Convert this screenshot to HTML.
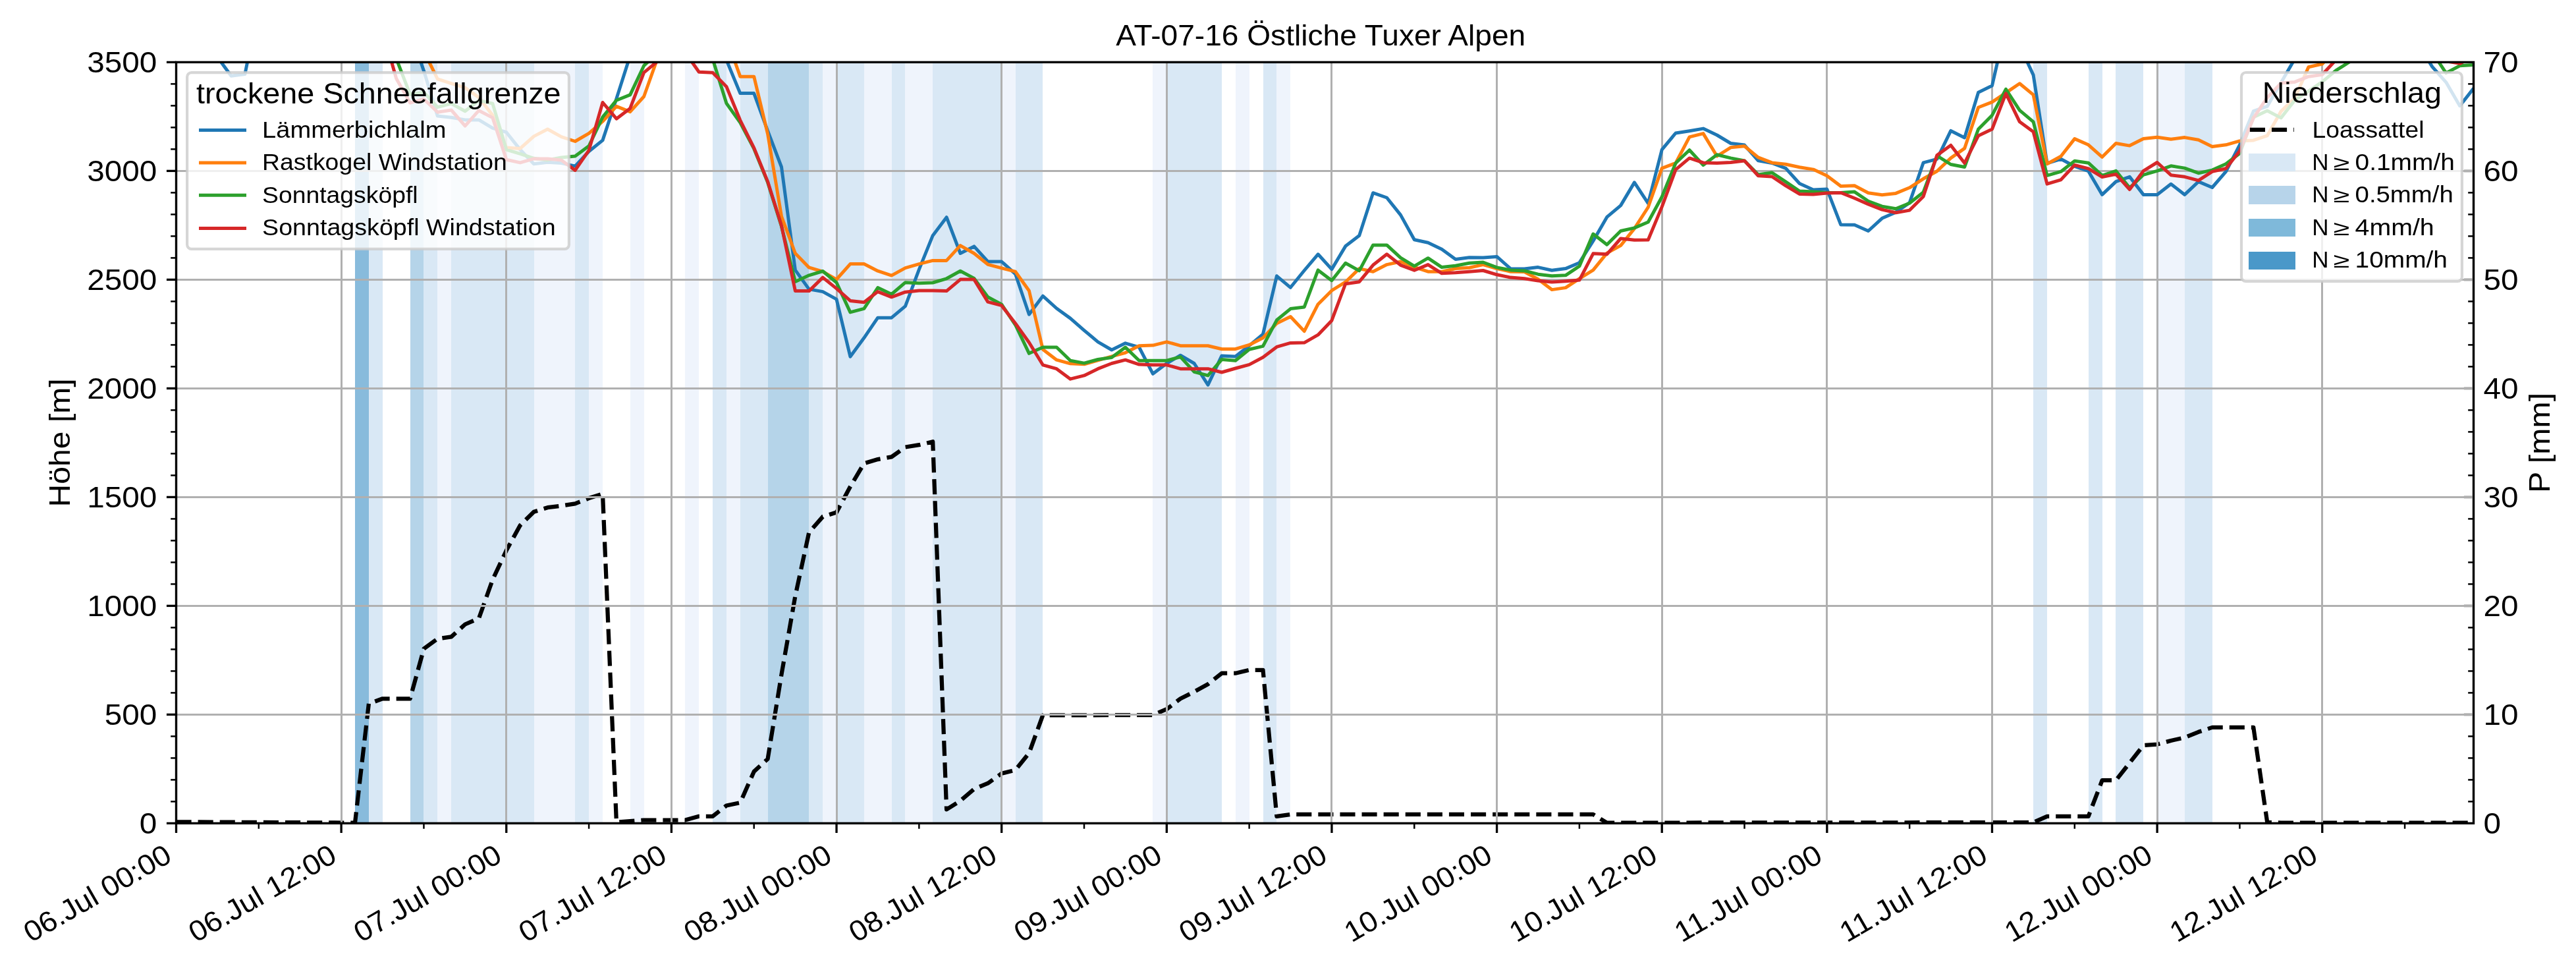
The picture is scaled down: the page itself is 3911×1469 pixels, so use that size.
<!DOCTYPE html>
<html lang="de"><head><meta charset="utf-8"><title>AT-07-16 Östliche Tuxer Alpen</title>
<style>html,body{margin:0;padding:0;background:#fff;}body{width:3911px;height:1469px;overflow:hidden;}svg{display:block;will-change:transform;}text{font-family:"Liberation Sans", sans-serif;fill:#000;}</style></head><body>
<svg width="3911" height="1469" viewBox="0 0 3911 1469">
<defs><clipPath id="ax"><rect x="267.50" y="94.40" width="3488.00" height="1155.00"/></clipPath></defs>
<rect x="0" y="0" width="3911" height="1469" fill="#ffffff"/>
<g shape-rendering="crispEdges">
<rect x="539" y="94.40" width="21" height="1155.00" fill="#88bbdc"/>
<rect x="560" y="94.40" width="21" height="1155.00" fill="#d9e8f5"/>
<rect x="623" y="94.40" width="20" height="1155.00" fill="#b5d4e9"/>
<rect x="643" y="94.40" width="21" height="1155.00" fill="#d9e8f5"/>
<rect x="664" y="94.40" width="21" height="1155.00" fill="#eff4fc"/>
<rect x="685" y="94.40" width="126" height="1155.00" fill="#d9e8f5"/>
<rect x="811" y="94.40" width="62" height="1155.00" fill="#eff4fc"/>
<rect x="873" y="94.40" width="21" height="1155.00" fill="#d9e8f5"/>
<rect x="894" y="94.40" width="21" height="1155.00" fill="#eff4fc"/>
<rect x="957" y="94.40" width="21" height="1155.00" fill="#eff4fc"/>
<rect x="1040" y="94.40" width="21" height="1155.00" fill="#eff4fc"/>
<rect x="1082" y="94.40" width="21" height="1155.00" fill="#d9e8f5"/>
<rect x="1103" y="94.40" width="21" height="1155.00" fill="#eff4fc"/>
<rect x="1124" y="94.40" width="42" height="1155.00" fill="#d9e8f5"/>
<rect x="1166" y="94.40" width="62" height="1155.00" fill="#b5d4e9"/>
<rect x="1228" y="94.40" width="21" height="1155.00" fill="#d9e8f5"/>
<rect x="1249" y="94.40" width="21" height="1155.00" fill="#eff4fc"/>
<rect x="1270" y="94.40" width="42" height="1155.00" fill="#d9e8f5"/>
<rect x="1312" y="94.40" width="42" height="1155.00" fill="#eff4fc"/>
<rect x="1354" y="94.40" width="20" height="1155.00" fill="#d9e8f5"/>
<rect x="1374" y="94.40" width="42" height="1155.00" fill="#eff4fc"/>
<rect x="1416" y="94.40" width="105" height="1155.00" fill="#d9e8f5"/>
<rect x="1521" y="94.40" width="21" height="1155.00" fill="#eff4fc"/>
<rect x="1542" y="94.40" width="41" height="1155.00" fill="#d9e8f5"/>
<rect x="1750" y="94.40" width="21" height="1155.00" fill="#eff4fc"/>
<rect x="1771" y="94.40" width="84" height="1155.00" fill="#d9e8f5"/>
<rect x="1876" y="94.40" width="21" height="1155.00" fill="#eff4fc"/>
<rect x="1918" y="94.40" width="20" height="1155.00" fill="#d9e8f5"/>
<rect x="1938" y="94.40" width="21" height="1155.00" fill="#eff4fc"/>
<rect x="3087" y="94.40" width="21" height="1155.00" fill="#d9e8f5"/>
<rect x="3171" y="94.40" width="21" height="1155.00" fill="#d9e8f5"/>
<rect x="3212" y="94.40" width="42" height="1155.00" fill="#d9e8f5"/>
<rect x="3275" y="94.40" width="42" height="1155.00" fill="#eff4fc"/>
<rect x="3317" y="94.40" width="42" height="1155.00" fill="#d9e8f5"/>
</g>
<g clip-path="url(#ax)"><polyline fill="none" stroke="#000" stroke-width="6.25" stroke-dasharray="23.1 10" stroke-linejoin="round" points="267.5,1247.3 539.0,1248.6 559.9,1067.9 580.8,1060.3 601.7,1060.3 622.6,1060.3 643.5,984.6 664.3,969.4 685.2,966.4 706.1,947.5 727.0,938.4 747.9,879.8 768.8,835.3 789.7,797.3 810.5,776.7 831.4,770.2 852.3,767.6 873.2,764.3 894.1,756.1 915.0,749.5 935.9,1247.8 956.7,1246.1 977.6,1244.5 998.5,1244.5 1019.4,1244.5 1040.3,1244.5 1061.2,1238.8 1082.1,1238.8 1102.9,1222.5 1123.8,1218.1 1144.7,1170.9 1165.6,1151.7 1186.5,1023.4 1207.4,904.6 1228.3,807.9 1249.2,784.1 1270.0,777.5 1290.9,738.6 1311.8,703.3 1332.7,697.1 1353.6,693.4 1374.5,678.5 1395.4,675.2 1416.2,670.3 1437.1,1228.4 1458.0,1215.2 1478.9,1197.4 1499.8,1188.7 1520.7,1173.8 1541.6,1168.6 1562.4,1142.8 1583.3,1085.4 1750.4,1085.1 1771.3,1076.2 1792.2,1060.3 1813.1,1049.8 1834.0,1038.2 1854.9,1021.7 1875.7,1021.7 1896.6,1016.8 1917.5,1016.8 1938.4,1238.8 1959.3,1235.9 2418.8,1235.9 2439.7,1248.6 3087.1,1248.1 3108.0,1238.8 3170.7,1238.8 3191.6,1184.2 3212.5,1184.2 3233.3,1157.7 3254.2,1131.1 3275.1,1129.6 3296.0,1124.0 3316.9,1119.2 3337.8,1110.8 3358.7,1103.9 3379.5,1103.9 3400.4,1103.9 3421.3,1103.9 3442.2,1247.8 3463.1,1248.6 3755.5,1248.6"/></g>
<g stroke="#b0b0b0" stroke-width="3" fill="none">
<line x1="518.50" y1="94.40" x2="518.50" y2="1249.40"/>
<line x1="768.50" y1="94.40" x2="768.50" y2="1249.40"/>
<line x1="1019.50" y1="94.40" x2="1019.50" y2="1249.40"/>
<line x1="1270.50" y1="94.40" x2="1270.50" y2="1249.40"/>
<line x1="1520.50" y1="94.40" x2="1520.50" y2="1249.40"/>
<line x1="1771.50" y1="94.40" x2="1771.50" y2="1249.40"/>
<line x1="2021.50" y1="94.40" x2="2021.50" y2="1249.40"/>
<line x1="2272.50" y1="94.40" x2="2272.50" y2="1249.40"/>
<line x1="2523.50" y1="94.40" x2="2523.50" y2="1249.40"/>
<line x1="2773.50" y1="94.40" x2="2773.50" y2="1249.40"/>
<line x1="3024.50" y1="94.40" x2="3024.50" y2="1249.40"/>
<line x1="3275.50" y1="94.40" x2="3275.50" y2="1249.40"/>
<line x1="3525.50" y1="94.40" x2="3525.50" y2="1249.40"/>
<line x1="267.50" y1="1084.50" x2="3755.50" y2="1084.50"/>
<line x1="267.50" y1="919.50" x2="3755.50" y2="919.50"/>
<line x1="267.50" y1="754.50" x2="3755.50" y2="754.50"/>
<line x1="267.50" y1="589.50" x2="3755.50" y2="589.50"/>
<line x1="267.50" y1="424.50" x2="3755.50" y2="424.50"/>
<line x1="267.50" y1="259.50" x2="3755.50" y2="259.50"/>
</g>
<g clip-path="url(#ax)" fill="none" stroke-width="5" stroke-linejoin="round" stroke-linecap="butt">
<polyline stroke="#1f77b4" points="267.5,28.4 288.4,44.9 309.3,61.4 330.2,86.8 351.0,115.2 371.9,112.6 392.8,8.6 413.7,-4.6 434.6,-4.6 455.5,-4.6 476.4,-4.6 497.2,-4.6 518.1,-4.6 539.0,-4.6 559.9,-4.6 580.8,-4.6 601.7,-4.6 622.6,46.9 643.5,107.6 664.3,175.9 685.2,178.2 706.1,181.9 727.0,181.9 747.9,194.4 768.8,200.7 789.7,227.1 810.5,248.8 831.4,246.2 852.3,247.5 873.2,252.1 894.1,229.7 915.0,212.9 935.9,149.8 956.7,84.5 977.6,-4.6 998.5,-4.6 1019.4,-4.6 1040.3,-4.6 1061.2,-4.6 1082.1,-4.6 1102.9,91.1 1123.8,141.6 1144.7,141.6 1165.6,198.7 1186.5,253.5 1207.4,409.9 1228.3,438.9 1249.2,442.6 1270.0,454.1 1290.9,541.2 1311.8,512.8 1332.7,482.2 1353.6,482.2 1374.5,464.7 1395.4,408.9 1416.2,357.4 1437.1,329.7 1458.0,384.5 1478.9,373.9 1499.8,397.0 1520.7,397.0 1541.6,415.8 1562.4,477.2 1583.3,449.2 1604.2,468.0 1625.1,483.1 1646.0,501.3 1666.9,518.8 1687.8,531.0 1708.6,520.8 1729.5,527.0 1750.4,567.3 1771.3,551.5 1792.2,539.2 1813.1,551.5 1834.0,584.1 1854.9,539.9 1875.7,540.9 1896.6,524.7 1917.5,507.2 1938.4,418.8 1959.3,436.3 1980.2,410.5 2001.1,385.8 2021.9,408.6 2042.8,373.6 2063.7,357.4 2084.6,292.7 2105.5,300.0 2126.4,326.1 2147.3,363.7 2168.1,368.3 2189.0,378.2 2209.9,393.4 2230.8,390.7 2251.7,391.1 2272.6,389.4 2293.5,407.9 2314.4,407.9 2335.2,405.6 2356.1,410.2 2377.0,407.6 2397.9,398.7 2418.8,365.7 2439.7,329.4 2460.6,311.9 2481.4,276.9 2502.3,308.6 2523.2,227.1 2544.1,202.0 2565.0,198.7 2585.9,195.1 2606.8,205.0 2627.6,217.5 2648.5,220.1 2669.4,243.9 2690.3,247.5 2711.2,255.4 2732.1,278.5 2753.0,288.1 2773.8,287.1 2794.7,340.9 2815.6,341.2 2836.5,350.5 2857.4,331.3 2878.3,322.1 2899.2,307.6 2920.1,246.9 2940.9,241.3 2961.8,198.4 2982.7,208.9 3003.6,140.3 3024.5,130.0 3045.4,38.6 3066.3,69.0 3087.1,113.9 3108.0,247.9 3128.9,241.3 3149.8,252.5 3170.7,259.7 3191.6,295.4 3212.5,275.6 3233.3,268.3 3254.2,295.4 3275.1,295.4 3296.0,279.2 3316.9,295.4 3337.8,275.6 3358.7,284.5 3379.5,260.4 3400.4,219.8 3421.3,168.7 3442.2,161.4 3463.1,125.4 3484.0,89.5 3504.9,61.4 3525.8,-4.6 3546.6,-4.6 3567.5,-4.6 3588.4,-4.6 3609.3,-4.6 3630.2,-4.6 3651.1,-4.6 3672.0,68.7 3692.8,101.3 3713.7,124.8 3734.6,160.7 3755.5,134.0"/>
<polyline stroke="#ff7f0e" points="267.5,-4.6 288.4,-4.6 309.3,-4.6 330.2,-4.6 351.0,-4.6 371.9,-4.6 392.8,-4.6 413.7,-4.6 434.6,-4.6 455.5,-4.6 476.4,-4.6 497.2,-4.6 518.1,-4.6 539.0,-4.6 559.9,-4.6 580.8,-4.6 601.7,-4.6 622.6,-4.6 643.5,77.9 664.3,119.8 685.2,126.7 706.1,133.0 727.0,147.9 747.9,174.9 768.8,224.1 789.7,225.4 810.5,206.9 831.4,196.0 852.3,207.6 873.2,214.5 894.1,202.3 915.0,184.2 935.9,161.4 956.7,169.6 977.6,146.5 998.5,87.8 1019.4,-4.6 1040.3,-4.6 1061.2,-4.6 1082.1,-4.6 1102.9,57.4 1123.8,116.2 1144.7,116.2 1165.6,203.3 1186.5,328.4 1207.4,384.5 1228.3,405.9 1249.2,412.2 1270.0,424.1 1290.9,400.6 1311.8,400.6 1332.7,411.2 1353.6,418.1 1374.5,406.6 1395.4,400.6 1416.2,395.4 1437.1,395.4 1458.0,372.6 1478.9,384.5 1499.8,401.3 1520.7,406.9 1541.6,412.2 1562.4,441.2 1583.3,530.3 1604.2,546.2 1625.1,551.8 1646.0,552.8 1666.9,546.8 1687.8,540.9 1708.6,535.3 1729.5,524.7 1750.4,524.1 1771.3,518.8 1792.2,524.7 1813.1,524.7 1834.0,524.7 1854.9,529.7 1875.7,529.7 1896.6,523.4 1917.5,512.8 1938.4,490.7 1959.3,480.5 1980.2,502.6 2001.1,461.7 2021.9,440.9 2042.8,428.0 2063.7,407.6 2084.6,412.2 2105.5,401.6 2126.4,397.0 2147.3,405.3 2168.1,412.2 2189.0,412.2 2209.9,407.6 2230.8,406.3 2251.7,401.6 2272.6,407.6 2293.5,412.2 2314.4,412.5 2335.2,423.7 2356.1,439.6 2377.0,436.6 2397.9,422.8 2418.8,409.9 2439.7,384.1 2460.6,372.6 2481.4,346.9 2502.3,314.5 2523.2,255.4 2544.1,247.5 2565.0,207.9 2585.9,202.6 2606.8,237.0 2627.6,223.8 2648.5,221.8 2669.4,238.9 2690.3,246.9 2711.2,249.2 2732.1,253.8 2753.0,257.1 2773.8,266.7 2794.7,282.5 2815.6,281.8 2836.5,292.7 2857.4,295.7 2878.3,293.4 2899.2,284.8 2920.1,271.3 2940.9,259.7 2961.8,239.9 2982.7,225.1 3003.6,163.0 3024.5,154.8 3045.4,140.9 3066.3,126.7 3087.1,143.9 3108.0,248.8 3128.9,237.3 3149.8,210.6 3170.7,219.8 3191.6,238.3 3212.5,217.5 3233.3,221.1 3254.2,210.6 3275.1,208.2 3296.0,211.2 3316.9,208.6 3337.8,212.2 3358.7,222.4 3379.5,219.8 3400.4,213.9 3421.3,212.9 3442.2,205.9 3463.1,169.0 3484.0,148.9 3504.9,101.7 3525.8,97.0 3546.6,74.6 3567.5,-4.6 3588.4,-4.6 3609.3,-4.6 3630.2,-4.6 3651.1,-4.6 3672.0,-4.6 3692.8,-4.6 3713.7,-4.6 3734.6,-4.6 3755.5,-4.6"/>
<polyline stroke="#2ca02c" points="267.5,-4.6 288.4,-4.6 309.3,-4.6 330.2,-4.6 351.0,-4.6 371.9,-4.6 392.8,-4.6 413.7,-4.6 434.6,-4.6 455.5,-4.6 476.4,-4.6 497.2,-4.6 518.1,-4.6 539.0,-4.6 559.9,-4.6 580.8,28.4 601.7,89.1 622.6,143.2 643.5,139.9 664.3,162.7 685.2,157.1 706.1,168.7 727.0,152.5 747.9,157.1 768.8,227.1 789.7,233.3 810.5,240.3 831.4,242.9 852.3,238.9 873.2,237.0 894.1,221.5 915.0,177.6 935.9,152.2 956.7,143.9 977.6,99.7 998.5,80.2 1019.4,-4.6 1040.3,-4.6 1061.2,61.4 1082.1,89.8 1102.9,156.8 1123.8,186.1 1144.7,225.7 1165.6,276.9 1186.5,343.6 1207.4,427.4 1228.3,417.8 1249.2,411.5 1270.0,428.7 1290.9,473.9 1311.8,468.3 1332.7,436.6 1353.6,446.5 1374.5,428.7 1395.4,429.7 1416.2,429.0 1437.1,422.8 1458.0,411.2 1478.9,422.4 1499.8,450.8 1520.7,462.0 1541.6,493.0 1562.4,536.3 1583.3,527.0 1604.2,527.0 1625.1,547.2 1646.0,551.1 1666.9,545.5 1687.8,542.5 1708.6,527.0 1729.5,547.2 1750.4,547.2 1771.3,547.2 1792.2,541.6 1813.1,564.3 1834.0,569.9 1854.9,545.5 1875.7,547.2 1896.6,530.3 1917.5,525.4 1938.4,485.8 1959.3,468.6 1980.2,466.0 2001.1,409.9 2021.9,425.7 2042.8,399.3 2063.7,410.9 2084.6,371.9 2105.5,371.9 2126.4,391.1 2147.3,403.9 2168.1,391.7 2189.0,405.6 2209.9,403.3 2230.8,399.3 2251.7,398.0 2272.6,405.9 2293.5,409.9 2314.4,410.9 2335.2,416.2 2356.1,418.8 2377.0,417.8 2397.9,403.9 2418.8,355.1 2439.7,371.3 2460.6,350.5 2481.4,345.9 2502.3,337.0 2523.2,298.7 2544.1,247.5 2565.0,227.7 2585.9,250.5 2606.8,234.7 2627.6,239.9 2648.5,243.9 2669.4,265.0 2690.3,262.0 2711.2,275.9 2732.1,290.1 2753.0,291.1 2773.8,292.4 2794.7,292.4 2815.6,291.1 2836.5,305.3 2857.4,313.2 2878.3,316.8 2899.2,308.2 2920.1,291.7 2940.9,236.3 2961.8,249.5 2982.7,253.5 3003.6,196.0 3024.5,174.9 3045.4,135.3 3066.3,167.3 3087.1,184.8 3108.0,266.3 3128.9,260.4 3149.8,244.2 3170.7,247.2 3191.6,266.3 3212.5,259.4 3233.3,285.1 3254.2,265.3 3275.1,259.4 3296.0,251.8 3316.9,255.1 3337.8,262.7 3358.7,258.1 3379.5,248.8 3400.4,232.7 3421.3,177.9 3442.2,168.0 3463.1,178.9 3484.0,152.2 3504.9,138.3 3525.8,124.1 3546.6,106.9 3567.5,93.7 3588.4,61.4 3609.3,-4.6 3630.2,-4.6 3651.1,-4.6 3672.0,-4.6 3692.8,79.2 3713.7,110.9 3734.6,99.7 3755.5,98.4"/>
<polyline stroke="#d62728" points="267.5,-4.6 288.4,-4.6 309.3,-4.6 330.2,-4.6 351.0,-4.6 371.9,-4.6 392.8,-4.6 413.7,-4.6 434.6,-4.6 455.5,-4.6 476.4,-4.6 497.2,-4.6 518.1,-4.6 539.0,-4.6 559.9,-4.6 580.8,45.6 601.7,119.2 622.6,156.1 643.5,150.2 664.3,170.3 685.2,167.0 706.1,191.1 727.0,167.7 747.9,178.6 768.8,242.2 789.7,246.9 810.5,240.9 831.4,240.9 852.3,242.9 873.2,258.4 894.1,228.1 915.0,155.5 935.9,180.2 956.7,164.4 977.6,110.2 998.5,92.8 1019.4,61.4 1040.3,79.6 1061.2,109.2 1082.1,110.2 1102.9,131.4 1123.8,182.5 1144.7,224.4 1165.6,275.6 1186.5,342.6 1207.4,441.6 1228.3,441.6 1249.2,421.1 1270.0,437.9 1290.9,456.4 1311.8,458.7 1332.7,442.6 1353.6,450.8 1374.5,443.2 1395.4,440.9 1416.2,440.9 1437.1,441.6 1458.0,424.1 1478.9,424.1 1499.8,458.1 1520.7,463.7 1541.6,490.7 1562.4,519.8 1583.3,553.8 1604.2,559.7 1625.1,575.2 1646.0,569.9 1666.9,559.7 1687.8,551.5 1708.6,546.2 1729.5,553.1 1750.4,553.8 1771.3,553.8 1792.2,559.7 1813.1,559.7 1834.0,559.7 1854.9,565.0 1875.7,559.0 1896.6,553.4 1917.5,542.2 1938.4,526.4 1959.3,520.4 1980.2,520.1 2001.1,508.2 2021.9,486.4 2042.8,430.7 2063.7,427.7 2084.6,402.3 2105.5,385.8 2126.4,402.3 2147.3,410.2 2168.1,401.6 2189.0,414.8 2209.9,413.8 2230.8,412.2 2251.7,410.5 2272.6,416.8 2293.5,421.1 2314.4,422.8 2335.2,426.1 2356.1,428.0 2377.0,426.7 2397.9,425.1 2418.8,384.8 2439.7,385.8 2460.6,362.0 2481.4,364.3 2502.3,364.0 2523.2,313.9 2544.1,257.4 2565.0,239.9 2585.9,246.9 2606.8,247.5 2627.6,246.5 2648.5,243.9 2669.4,266.7 2690.3,268.0 2711.2,281.8 2732.1,294.4 2753.0,295.0 2773.8,293.1 2794.7,292.4 2815.6,300.7 2836.5,309.9 2857.4,318.1 2878.3,322.8 2899.2,319.1 2920.1,298.3 2940.9,235.6 2961.8,220.5 2982.7,247.5 3003.6,205.9 3024.5,196.0 3045.4,141.9 3066.3,184.8 3087.1,200.0 3108.0,279.2 3128.9,272.9 3149.8,250.5 3170.7,255.8 3191.6,268.6 3212.5,264.4 3233.3,287.5 3254.2,259.4 3275.1,246.5 3296.0,265.7 3316.9,268.3 3337.8,273.9 3358.7,260.4 3379.5,255.8 3400.4,229.0 3421.3,179.2 3442.2,148.2 3463.1,126.1 3484.0,124.4 3504.9,116.2 3525.8,113.2 3546.6,90.8 3567.5,61.4 3588.4,-4.6 3609.3,-4.6 3630.2,-4.6 3651.1,-4.6 3672.0,74.6 3692.8,87.8 3713.7,92.8 3734.6,96.4 3755.5,85.8"/>
</g>
<rect x="284.10" y="110.10" width="579.80" height="267.80" rx="6.7" ry="6.7" fill="#ffffff" fill-opacity="0.8" stroke="#cccccc" stroke-opacity="0.8" stroke-width="4.17"/>
<text x="298.00" y="156.60" font-size="43.75" text-anchor="start" textLength="553.6" lengthAdjust="spacingAndGlyphs">trockene Schneefallgrenze</text>
<line x1="302" y1="197.50" x2="374" y2="197.50" stroke="#1f77b4" stroke-width="5"/>
<text x="398.10" y="208.70" font-size="35.00" text-anchor="start" textLength="279.4" lengthAdjust="spacingAndGlyphs">Lämmerbichlalm</text>
<line x1="302" y1="246.90" x2="374" y2="246.90" stroke="#ff7f0e" stroke-width="5"/>
<text x="398.10" y="258.20" font-size="35.00" text-anchor="start" textLength="371.8" lengthAdjust="spacingAndGlyphs">Rastkogel Windstation</text>
<line x1="302" y1="296.30" x2="374" y2="296.30" stroke="#2ca02c" stroke-width="5"/>
<text x="398.10" y="307.70" font-size="35.00" text-anchor="start" textLength="236.5" lengthAdjust="spacingAndGlyphs">Sonntagsköpfl</text>
<line x1="302" y1="346.40" x2="374" y2="346.40" stroke="#d62728" stroke-width="5"/>
<text x="398.10" y="357.20" font-size="35.00" text-anchor="start" textLength="445.5" lengthAdjust="spacingAndGlyphs">Sonntagsköpfl Windstation</text>
<rect x="3403.00" y="110.00" width="334.90" height="317.00" rx="6.7" ry="6.7" fill="#ffffff" fill-opacity="0.8" stroke="#cccccc" stroke-opacity="0.8" stroke-width="4.17"/>
<text x="3570.80" y="155.60" font-size="43.75" text-anchor="middle" textLength="272.2" lengthAdjust="spacingAndGlyphs">Niederschlag</text>
<line x1="3415.9" y1="196.95" x2="3482.9" y2="196.95" stroke="#000" stroke-width="6.25" stroke-dasharray="23.1 10"/>
<text x="3510.60" y="208.50" font-size="35.00" text-anchor="start" textLength="169.9" lengthAdjust="spacingAndGlyphs">Loassattel</text>
<rect x="3414.0" y="233.10" width="71.1" height="26.80" fill="#d9e8f5" shape-rendering="crispEdges"/>
<text y="257.90" font-size="35.00"><tspan x="3510.2">N</tspan> <tspan x="3542.60" font-size="31.50" textLength="24.8" lengthAdjust="spacingAndGlyphs">≥</tspan> <tspan x="3575.60" textLength="151.2" lengthAdjust="spacingAndGlyphs">0.1mm/h</tspan></text>
<rect x="3414.0" y="282.20" width="71.1" height="27.80" fill="#b7d4ea" shape-rendering="crispEdges"/>
<text y="307.40" font-size="35.00"><tspan x="3510.2">N</tspan> <tspan x="3542.60" font-size="31.50" textLength="24.8" lengthAdjust="spacingAndGlyphs">≥</tspan> <tspan x="3575.60" textLength="149.1" lengthAdjust="spacingAndGlyphs">0.5mm/h</tspan></text>
<rect x="3414.0" y="331.80" width="71.1" height="27.10" fill="#7fb9da" shape-rendering="crispEdges"/>
<text y="356.90" font-size="35.00"><tspan x="3510.2">N</tspan> <tspan x="3542.60" font-size="31.50" textLength="24.8" lengthAdjust="spacingAndGlyphs">≥</tspan> <tspan x="3575.60" textLength="120.1" lengthAdjust="spacingAndGlyphs">4mm/h</tspan></text>
<rect x="3414.0" y="381.90" width="71.1" height="27.20" fill="#4a98c9" shape-rendering="crispEdges"/>
<text y="406.40" font-size="35.00"><tspan x="3510.2">N</tspan> <tspan x="3542.60" font-size="31.50" textLength="24.8" lengthAdjust="spacingAndGlyphs">≥</tspan> <tspan x="3575.60" textLength="140.3" lengthAdjust="spacingAndGlyphs">10mm/h</tspan></text>
<g stroke="#000" fill="none">
<rect x="267.50" y="94.40" width="3488.00" height="1155.00" stroke-width="3.4"/>
<line x1="252.90" y1="1249.40" x2="267.50" y2="1249.40" stroke-width="3.33"/>
<line x1="259.17" y1="1216.40" x2="267.50" y2="1216.40" stroke-width="2.5"/>
<line x1="259.17" y1="1183.40" x2="267.50" y2="1183.40" stroke-width="2.5"/>
<line x1="259.17" y1="1150.40" x2="267.50" y2="1150.40" stroke-width="2.5"/>
<line x1="259.17" y1="1117.40" x2="267.50" y2="1117.40" stroke-width="2.5"/>
<line x1="252.90" y1="1084.40" x2="267.50" y2="1084.40" stroke-width="3.33"/>
<line x1="259.17" y1="1051.40" x2="267.50" y2="1051.40" stroke-width="2.5"/>
<line x1="259.17" y1="1018.40" x2="267.50" y2="1018.40" stroke-width="2.5"/>
<line x1="259.17" y1="985.40" x2="267.50" y2="985.40" stroke-width="2.5"/>
<line x1="259.17" y1="952.40" x2="267.50" y2="952.40" stroke-width="2.5"/>
<line x1="252.90" y1="919.40" x2="267.50" y2="919.40" stroke-width="3.33"/>
<line x1="259.17" y1="886.40" x2="267.50" y2="886.40" stroke-width="2.5"/>
<line x1="259.17" y1="853.40" x2="267.50" y2="853.40" stroke-width="2.5"/>
<line x1="259.17" y1="820.40" x2="267.50" y2="820.40" stroke-width="2.5"/>
<line x1="259.17" y1="787.40" x2="267.50" y2="787.40" stroke-width="2.5"/>
<line x1="252.90" y1="754.40" x2="267.50" y2="754.40" stroke-width="3.33"/>
<line x1="259.17" y1="721.40" x2="267.50" y2="721.40" stroke-width="2.5"/>
<line x1="259.17" y1="688.40" x2="267.50" y2="688.40" stroke-width="2.5"/>
<line x1="259.17" y1="655.40" x2="267.50" y2="655.40" stroke-width="2.5"/>
<line x1="259.17" y1="622.40" x2="267.50" y2="622.40" stroke-width="2.5"/>
<line x1="252.90" y1="589.40" x2="267.50" y2="589.40" stroke-width="3.33"/>
<line x1="259.17" y1="556.40" x2="267.50" y2="556.40" stroke-width="2.5"/>
<line x1="259.17" y1="523.40" x2="267.50" y2="523.40" stroke-width="2.5"/>
<line x1="259.17" y1="490.40" x2="267.50" y2="490.40" stroke-width="2.5"/>
<line x1="259.17" y1="457.40" x2="267.50" y2="457.40" stroke-width="2.5"/>
<line x1="252.90" y1="424.40" x2="267.50" y2="424.40" stroke-width="3.33"/>
<line x1="259.17" y1="391.40" x2="267.50" y2="391.40" stroke-width="2.5"/>
<line x1="259.17" y1="358.40" x2="267.50" y2="358.40" stroke-width="2.5"/>
<line x1="259.17" y1="325.40" x2="267.50" y2="325.40" stroke-width="2.5"/>
<line x1="259.17" y1="292.40" x2="267.50" y2="292.40" stroke-width="2.5"/>
<line x1="252.90" y1="259.40" x2="267.50" y2="259.40" stroke-width="3.33"/>
<line x1="259.17" y1="226.40" x2="267.50" y2="226.40" stroke-width="2.5"/>
<line x1="259.17" y1="193.40" x2="267.50" y2="193.40" stroke-width="2.5"/>
<line x1="259.17" y1="160.40" x2="267.50" y2="160.40" stroke-width="2.5"/>
<line x1="259.17" y1="127.40" x2="267.50" y2="127.40" stroke-width="2.5"/>
<line x1="252.90" y1="94.40" x2="267.50" y2="94.40" stroke-width="3.33"/>
<line x1="267.50" y1="1249.40" x2="267.50" y2="1264.00" stroke-width="3.33"/>
<line x1="392.82" y1="1249.40" x2="392.82" y2="1257.73" stroke-width="2.5"/>
<line x1="518.13" y1="1249.40" x2="518.13" y2="1264.00" stroke-width="3.33"/>
<line x1="643.45" y1="1249.40" x2="643.45" y2="1257.73" stroke-width="2.5"/>
<line x1="768.77" y1="1249.40" x2="768.77" y2="1264.00" stroke-width="3.33"/>
<line x1="894.09" y1="1249.40" x2="894.09" y2="1257.73" stroke-width="2.5"/>
<line x1="1019.40" y1="1249.40" x2="1019.40" y2="1264.00" stroke-width="3.33"/>
<line x1="1144.72" y1="1249.40" x2="1144.72" y2="1257.73" stroke-width="2.5"/>
<line x1="1270.04" y1="1249.40" x2="1270.04" y2="1264.00" stroke-width="3.33"/>
<line x1="1395.36" y1="1249.40" x2="1395.36" y2="1257.73" stroke-width="2.5"/>
<line x1="1520.67" y1="1249.40" x2="1520.67" y2="1264.00" stroke-width="3.33"/>
<line x1="1645.99" y1="1249.40" x2="1645.99" y2="1257.73" stroke-width="2.5"/>
<line x1="1771.31" y1="1249.40" x2="1771.31" y2="1264.00" stroke-width="3.33"/>
<line x1="1896.63" y1="1249.40" x2="1896.63" y2="1257.73" stroke-width="2.5"/>
<line x1="2021.94" y1="1249.40" x2="2021.94" y2="1264.00" stroke-width="3.33"/>
<line x1="2147.26" y1="1249.40" x2="2147.26" y2="1257.73" stroke-width="2.5"/>
<line x1="2272.58" y1="1249.40" x2="2272.58" y2="1264.00" stroke-width="3.33"/>
<line x1="2397.90" y1="1249.40" x2="2397.90" y2="1257.73" stroke-width="2.5"/>
<line x1="2523.21" y1="1249.40" x2="2523.21" y2="1264.00" stroke-width="3.33"/>
<line x1="2648.53" y1="1249.40" x2="2648.53" y2="1257.73" stroke-width="2.5"/>
<line x1="2773.85" y1="1249.40" x2="2773.85" y2="1264.00" stroke-width="3.33"/>
<line x1="2899.16" y1="1249.40" x2="2899.16" y2="1257.73" stroke-width="2.5"/>
<line x1="3024.48" y1="1249.40" x2="3024.48" y2="1264.00" stroke-width="3.33"/>
<line x1="3149.80" y1="1249.40" x2="3149.80" y2="1257.73" stroke-width="2.5"/>
<line x1="3275.12" y1="1249.40" x2="3275.12" y2="1264.00" stroke-width="3.33"/>
<line x1="3400.43" y1="1249.40" x2="3400.43" y2="1257.73" stroke-width="2.5"/>
<line x1="3525.75" y1="1249.40" x2="3525.75" y2="1264.00" stroke-width="3.33"/>
<line x1="3651.07" y1="1249.40" x2="3651.07" y2="1257.73" stroke-width="2.5"/>
<line x1="3747.17" y1="1216.40" x2="3755.50" y2="1216.40" stroke-width="2.5"/>
<line x1="3747.17" y1="1183.40" x2="3755.50" y2="1183.40" stroke-width="2.5"/>
<line x1="3747.17" y1="1150.40" x2="3755.50" y2="1150.40" stroke-width="2.5"/>
<line x1="3747.17" y1="1117.40" x2="3755.50" y2="1117.40" stroke-width="2.5"/>
<line x1="3740.90" y1="1084.40" x2="3753.80" y2="1084.40" stroke="#b0b0b0" stroke-width="4.2"/>
<line x1="3747.17" y1="1051.40" x2="3755.50" y2="1051.40" stroke-width="2.5"/>
<line x1="3747.17" y1="1018.40" x2="3755.50" y2="1018.40" stroke-width="2.5"/>
<line x1="3747.17" y1="985.40" x2="3755.50" y2="985.40" stroke-width="2.5"/>
<line x1="3747.17" y1="952.40" x2="3755.50" y2="952.40" stroke-width="2.5"/>
<line x1="3740.90" y1="919.40" x2="3753.80" y2="919.40" stroke="#b0b0b0" stroke-width="4.2"/>
<line x1="3747.17" y1="886.40" x2="3755.50" y2="886.40" stroke-width="2.5"/>
<line x1="3747.17" y1="853.40" x2="3755.50" y2="853.40" stroke-width="2.5"/>
<line x1="3747.17" y1="820.40" x2="3755.50" y2="820.40" stroke-width="2.5"/>
<line x1="3747.17" y1="787.40" x2="3755.50" y2="787.40" stroke-width="2.5"/>
<line x1="3740.90" y1="754.40" x2="3753.80" y2="754.40" stroke="#b0b0b0" stroke-width="4.2"/>
<line x1="3747.17" y1="721.40" x2="3755.50" y2="721.40" stroke-width="2.5"/>
<line x1="3747.17" y1="688.40" x2="3755.50" y2="688.40" stroke-width="2.5"/>
<line x1="3747.17" y1="655.40" x2="3755.50" y2="655.40" stroke-width="2.5"/>
<line x1="3747.17" y1="622.40" x2="3755.50" y2="622.40" stroke-width="2.5"/>
<line x1="3740.90" y1="589.40" x2="3753.80" y2="589.40" stroke="#b0b0b0" stroke-width="4.2"/>
<line x1="3747.17" y1="556.40" x2="3755.50" y2="556.40" stroke-width="2.5"/>
<line x1="3747.17" y1="523.40" x2="3755.50" y2="523.40" stroke-width="2.5"/>
<line x1="3747.17" y1="490.40" x2="3755.50" y2="490.40" stroke-width="2.5"/>
<line x1="3747.17" y1="457.40" x2="3755.50" y2="457.40" stroke-width="2.5"/>
<line x1="3740.90" y1="424.40" x2="3753.80" y2="424.40" stroke="#b0b0b0" stroke-width="4.2"/>
<line x1="3747.17" y1="391.40" x2="3755.50" y2="391.40" stroke-width="2.5"/>
<line x1="3747.17" y1="358.40" x2="3755.50" y2="358.40" stroke-width="2.5"/>
<line x1="3747.17" y1="325.40" x2="3755.50" y2="325.40" stroke-width="2.5"/>
<line x1="3747.17" y1="292.40" x2="3755.50" y2="292.40" stroke-width="2.5"/>
<line x1="3740.90" y1="259.40" x2="3753.80" y2="259.40" stroke="#b0b0b0" stroke-width="4.2"/>
<line x1="3747.17" y1="226.40" x2="3755.50" y2="226.40" stroke-width="2.5"/>
<line x1="3747.17" y1="193.40" x2="3755.50" y2="193.40" stroke-width="2.5"/>
<line x1="3747.17" y1="160.40" x2="3755.50" y2="160.40" stroke-width="2.5"/>
<line x1="3747.17" y1="127.40" x2="3755.50" y2="127.40" stroke-width="2.5"/>
</g>
<text x="238.30" y="1264.80" font-size="43.75" text-anchor="end" textLength="26.5" lengthAdjust="spacingAndGlyphs">0</text>
<text x="238.30" y="1099.80" font-size="43.75" text-anchor="end" textLength="79.5" lengthAdjust="spacingAndGlyphs">500</text>
<text x="238.30" y="934.80" font-size="43.75" text-anchor="end" textLength="106.0" lengthAdjust="spacingAndGlyphs">1000</text>
<text x="238.30" y="769.80" font-size="43.75" text-anchor="end" textLength="106.0" lengthAdjust="spacingAndGlyphs">1500</text>
<text x="238.30" y="604.80" font-size="43.75" text-anchor="end" textLength="106.0" lengthAdjust="spacingAndGlyphs">2000</text>
<text x="238.30" y="439.80" font-size="43.75" text-anchor="end" textLength="106.0" lengthAdjust="spacingAndGlyphs">2500</text>
<text x="238.30" y="274.80" font-size="43.75" text-anchor="end" textLength="106.0" lengthAdjust="spacingAndGlyphs">3000</text>
<text x="238.30" y="109.80" font-size="43.75" text-anchor="end" textLength="106.0" lengthAdjust="spacingAndGlyphs">3500</text>
<text x="3770.40" y="1264.80" font-size="43.75" text-anchor="start" textLength="26.5" lengthAdjust="spacingAndGlyphs">0</text>
<text x="3770.40" y="1099.80" font-size="43.75" text-anchor="start" textLength="53.0" lengthAdjust="spacingAndGlyphs">10</text>
<text x="3770.40" y="934.80" font-size="43.75" text-anchor="start" textLength="53.0" lengthAdjust="spacingAndGlyphs">20</text>
<text x="3770.40" y="769.80" font-size="43.75" text-anchor="start" textLength="53.0" lengthAdjust="spacingAndGlyphs">30</text>
<text x="3770.40" y="604.80" font-size="43.75" text-anchor="start" textLength="53.0" lengthAdjust="spacingAndGlyphs">40</text>
<text x="3770.40" y="439.80" font-size="43.75" text-anchor="start" textLength="53.0" lengthAdjust="spacingAndGlyphs">50</text>
<text x="3770.40" y="274.80" font-size="43.75" text-anchor="start" textLength="53.0" lengthAdjust="spacingAndGlyphs">60</text>
<text x="3770.40" y="109.80" font-size="43.75" text-anchor="start" textLength="53.0" lengthAdjust="spacingAndGlyphs">70</text>
<text transform="translate(46.90,1430.99) rotate(-30)" font-size="43.75" textLength="249.9" lengthAdjust="spacingAndGlyphs">06.Jul 00:00</text>
<text transform="translate(297.53,1430.99) rotate(-30)" font-size="43.75" textLength="249.9" lengthAdjust="spacingAndGlyphs">06.Jul 12:00</text>
<text transform="translate(548.17,1430.99) rotate(-30)" font-size="43.75" textLength="249.9" lengthAdjust="spacingAndGlyphs">07.Jul 00:00</text>
<text transform="translate(798.80,1430.99) rotate(-30)" font-size="43.75" textLength="249.9" lengthAdjust="spacingAndGlyphs">07.Jul 12:00</text>
<text transform="translate(1049.44,1430.99) rotate(-30)" font-size="43.75" textLength="249.9" lengthAdjust="spacingAndGlyphs">08.Jul 00:00</text>
<text transform="translate(1300.07,1430.99) rotate(-30)" font-size="43.75" textLength="249.9" lengthAdjust="spacingAndGlyphs">08.Jul 12:00</text>
<text transform="translate(1550.71,1430.99) rotate(-30)" font-size="43.75" textLength="249.9" lengthAdjust="spacingAndGlyphs">09.Jul 00:00</text>
<text transform="translate(1801.34,1430.99) rotate(-30)" font-size="43.75" textLength="249.9" lengthAdjust="spacingAndGlyphs">09.Jul 12:00</text>
<text transform="translate(2051.98,1430.99) rotate(-30)" font-size="43.75" textLength="249.9" lengthAdjust="spacingAndGlyphs">10.Jul 00:00</text>
<text transform="translate(2302.61,1430.99) rotate(-30)" font-size="43.75" textLength="249.9" lengthAdjust="spacingAndGlyphs">10.Jul 12:00</text>
<text transform="translate(2553.25,1430.99) rotate(-30)" font-size="43.75" textLength="249.9" lengthAdjust="spacingAndGlyphs">11.Jul 00:00</text>
<text transform="translate(2803.88,1430.99) rotate(-30)" font-size="43.75" textLength="249.9" lengthAdjust="spacingAndGlyphs">11.Jul 12:00</text>
<text transform="translate(3054.51,1430.99) rotate(-30)" font-size="43.75" textLength="249.9" lengthAdjust="spacingAndGlyphs">12.Jul 00:00</text>
<text transform="translate(3305.15,1430.99) rotate(-30)" font-size="43.75" textLength="249.9" lengthAdjust="spacingAndGlyphs">12.Jul 12:00</text>
<text x="1694.20" y="68.90" font-size="43.75" text-anchor="start" textLength="622.0" lengthAdjust="spacingAndGlyphs">AT-07-16 Östliche Tuxer Alpen</text>
<text transform="translate(106.4,769.51) rotate(-90)" font-size="43.75" textLength="195.2" lengthAdjust="spacingAndGlyphs">Höhe [m]</text>
<text transform="translate(3871,747.94) rotate(-90)" font-size="43.75" textLength="152.1" lengthAdjust="spacingAndGlyphs">P [mm]</text>
</svg></body></html>
